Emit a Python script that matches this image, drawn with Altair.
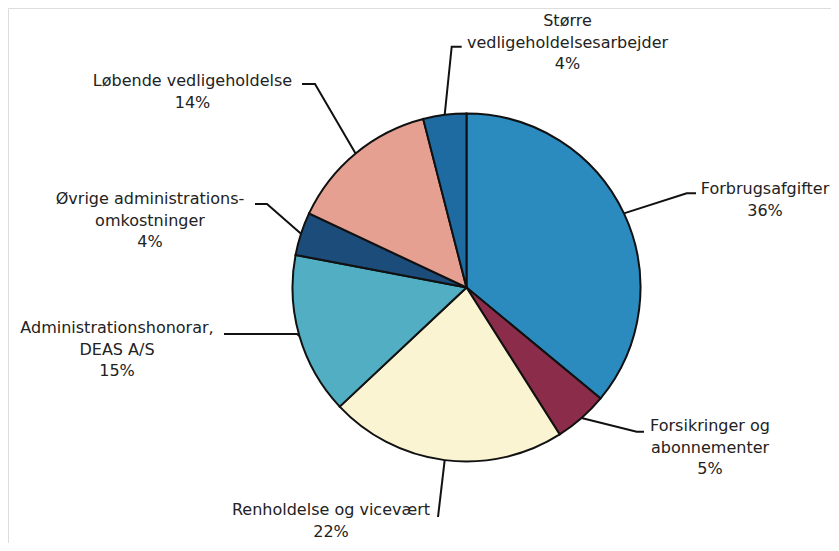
import altair as alt
import pandas as pd
import numpy as np

# ---- data ----
categories = [
    "Forbrugsafgifter",
    "Forsikringer og abonnementer",
    "Renholdelse og vicevært",
    "Administrationshonorar, DEAS A/S",
    "Øvrige administrationsomkostninger",
    "Løbende vedligeholdelse",
    "Større vedligeholdelsesarbejder",
]
shares = [36, 5, 22, 15, 4, 14, 4]
display_names = [
    "Forbrugsafgifter",
    "Forsikringer og\nabonnementer",
    "Renholdelse og vicevært",
    "Administrationshonorar,\nDEAS A/S",
    "Øvrige administrations-\nomkostninger",
    "Løbende vedligeholdelse",
    "Større\nvedligeholdelsesarbejder",
]
colors = ["#2b8bbf", "#8c2c4b", "#faf4d2", "#52aec2", "#1c4c7a", "#e6a092", "#1e6ba2"]

# ---- layout (pixels in chart coordinates) ----
W, H = 823, 535
CX, CY, R = 458.5, 279.5, 174
label_x = [757, 702, 323, 109, 142, 184.5, 559.5]
label_y = [186, 423, 507, 325, 196, 78, 18]
elbow_x = [678.7, 628.7, 430, 289, 259, 307, 443.7]
elbow_y = [185.3, 423.7, 509, 326, 196, 76, 38.7]
end_x = [688, 636, 430, 216, 247, 294, 453.7]
end_y = [185.3, 423.7, 509, 326, 196, 76, 38.7]

pie = pd.DataFrame({"cat": categories, "share": shares, "idx": range(len(categories))})

# leader lines start at slice midpoints on the rim
cum = np.cumsum(shares)
mid_frac = (cum - np.array(shares) / 2) / sum(shares)
ang = mid_frac * 2 * np.pi
rim_x = CX + R * np.sin(ang)
rim_y = CY - R * np.cos(ang)

rows = []
for i, c in enumerate(categories):
    rows.append({"cat": c, "o": 0, "px": rim_x[i], "py": rim_y[i]})
    rows.append({"cat": c, "o": 1, "px": elbow_x[i], "py": elbow_y[i]})
    rows.append({"cat": c, "o": 2, "px": end_x[i], "py": end_y[i]})
lines = pd.DataFrame(rows)

labels = pd.DataFrame({
    "cat": categories,
    "txt": [f"{n}\n{v}%" for n, v in zip(display_names, shares)],
    "px": label_x,
    "py": label_y,
})

arcs = alt.Chart(pie).mark_arc(radius=R, stroke="#111111", strokeWidth=2).encode(
    theta=alt.Theta("share:Q", stack=True),
    order=alt.Order("idx:Q"),
    color=alt.Color("cat:N", scale=alt.Scale(domain=categories, range=colors), legend=None),
    x=alt.value(CX),
    y=alt.value(CY),
)

leaders = alt.Chart(lines).mark_line(color="#111111", strokeWidth=2).encode(
    x=alt.X("px:Q", scale=None, axis=None),
    y=alt.Y("py:Q", scale=None, axis=None),
    detail="cat:N",
    order="o:Q",
)

texts = alt.Chart(labels).mark_text(
    align="center", baseline="alphabetic", lineBreak="\n", lineHeight=21.5,
    font="DejaVu Sans", fontSize=16, color="#222222",
).encode(
    x=alt.X("px:Q", scale=None, axis=None),
    y=alt.Y("py:Q", scale=None, axis=None),
    text="txt:N",
)

chart = alt.layer(leaders, arcs, texts).properties(
    width=W, height=H, autosize=alt.AutoSizeParams(type="none"), padding=0
).configure_view(strokeWidth=0, strokeOpacity=0).configure(background="white")

chart.save("out.html", embed_options={"renderer": "svg", "actions": False})
